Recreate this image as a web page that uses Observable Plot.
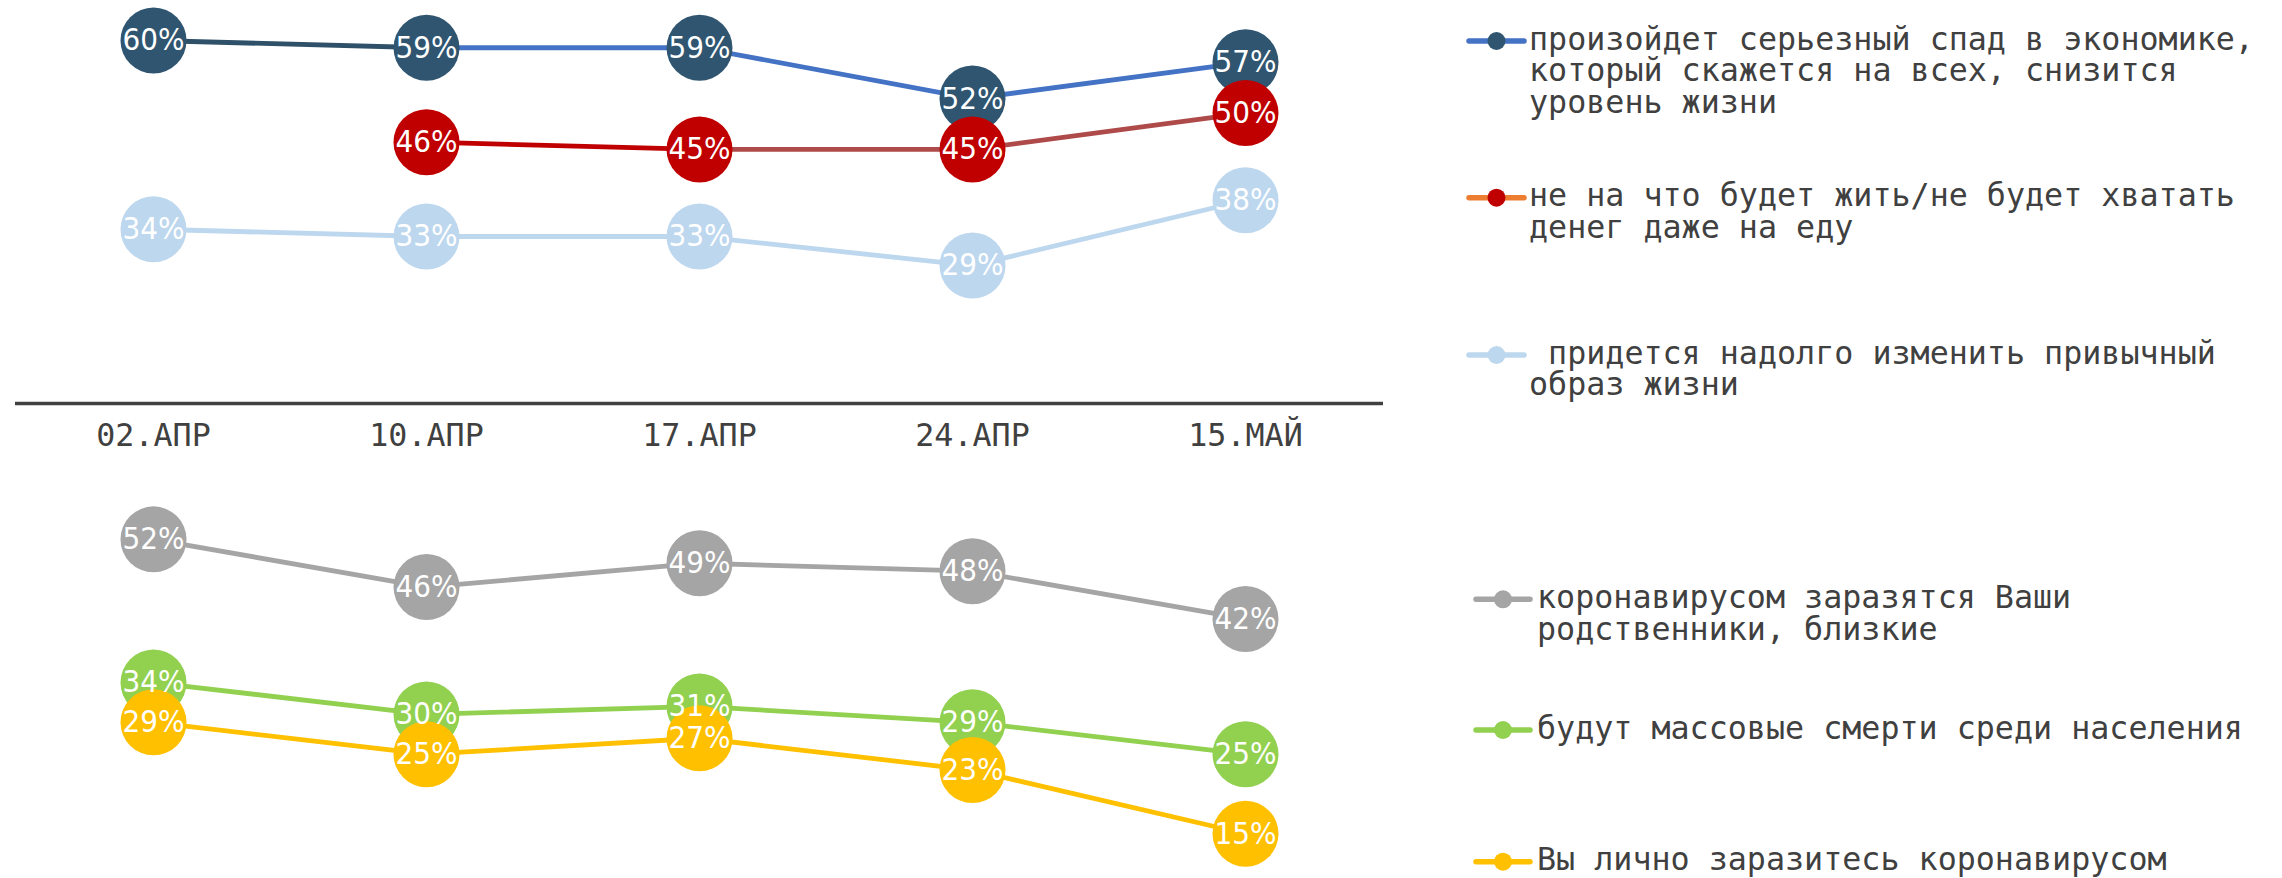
<!DOCTYPE html>
<html>
<head>
<meta charset="utf-8">
<script src="https://cdn.jsdelivr.net/npm/d3@7"></script>
<script src="https://cdn.jsdelivr.net/npm/@observablehq/plot@0.6"></script>
<style>
  html, body { margin: 0; padding: 0; background: #fff; overflow: hidden; }
  #wrap { position: relative; width: 2282px; height: 878px; overflow: hidden; background: #fff; }
  #top, #bottom, #legend { position: absolute; left: 0; }
  #top { top: 0; }
  #bottom { top: 470px; }
  #legend { top: 0; }
</style>
</head>
<body>
<div id="wrap">
  <div id="top"></div>
  <div id="bottom"></div>
  <svg id="legend" width="2282" height="878"></svg>
</div>
<script>
// ---------- DATA ----------
const dates = ["02.АПР", "10.АПР", "17.АПР", "24.АПР", "15.МАЙ"];
const econDecline = [60, 59, 59, 52, 57];
const noMoney = [null, 46, 45, 45, 50];
const lifestyleChange = [34, 33, 33, 29, 38];
const relativesInfected = [52, 46, 49, 48, 42];
const massDeaths = [34, 30, 31, 29, 25];
const selfInfected = [29, 25, 27, 23, 15];
const seriesNames = [
  "произойдет серьезный спад в экономике,\nкоторый скажется на всех, снизится\nуровень жизни",
  "не на что будет жить/не будет хватать\nденег даже на еду",
  " придется надолго изменить привычный\nобраз жизни",
  "коронавирусом заразятся Ваши\nродственники, близкие",
  "будут массовые смерти среди населения",
  "Вы лично заразитесь коронавирусом"
];

// ---------- STYLES ----------
const labelFont = "DejaVu Sans Condensed, DejaVu Sans, sans-serif";
const monoFont = "DejaVu Sans Mono, Liberation Mono, monospace";
const topStyles = [
  { dot: "#2F5570", seg: ["#2E5068", "#4472C4", "#4472C4", "#4472C4"], legendLine: "#4472C4" },
  { dot: "#C00000", seg: ["#C00000", "#C00000", "#AE4A4A", "#AE4A4A"], legendLine: "#ED7D31" },
  { dot: "#BDD7EE", seg: ["#BDD7EE", "#BDD7EE", "#BDD7EE", "#BDD7EE"], legendLine: "#BDD7EE" }
];
const bottomStyles = [
  { dot: "#A5A5A5", seg: ["#A5A5A5", "#A5A5A5", "#A5A5A5", "#A5A5A5"], legendLine: "#A5A5A5" },
  { dot: "#92D050", seg: ["#92D050", "#92D050", "#92D050", "#92D050"], legendLine: "#92D050" },
  { dot: "#FFC000", seg: ["#FFC000", "#FFC000", "#FFC000", "#FFC000"], legendLine: "#FFC000" }
];

function rowsOf(values) {
  return dates.map((d, i) => ({ date: d, value: values[i] })).filter(r => r.value != null);
}
function segmentsOf(values, style) {
  const segs = [];
  for (let i = 0; i < dates.length - 1; i++) {
    if (values[i] != null && values[i + 1] != null) {
      segs.push({ x1: dates[i], y1: values[i], x2: dates[i + 1], y2: values[i + 1], stroke: style.seg[i] });
    }
  }
  return segs;
}

function panel(seriesList, styles, opts) {
  const marks = [];
  seriesList.forEach((vals, k) => {
    marks.push(Plot.link(segmentsOf(vals, styles[k]), {
      x1: "x1", y1: "y1", x2: "x2", y2: "y2", stroke: "stroke",
      strokeWidth: 4.8, strokeLinecap: "round"
    }));
  });
  seriesList.forEach((vals, k) => {
    marks.push(Plot.dot(rowsOf(vals), { x: "date", y: "value", r: 33, fill: styles[k].dot }));
  });
  seriesList.forEach((vals) => {
    marks.push(Plot.text(rowsOf(vals), {
      x: "date", y: "value", text: d => d.value + "%", fill: "white",
      fontSize: 31, fontFamily: labelFont
    }));
  });
  if (opts.axis) {
    marks.push(Plot.ruleY([opts.yDomain[0]], { stroke: "#404040", strokeWidth: 3.5 }));
    marks.push(Plot.axisX({
      tickSize: 0, tickPadding: 20, fontSize: 31.7, fontFamily: monoFont, color: "#404040"
    }));
  }
  return Plot.plot({
    width: 1400,
    height: opts.height,
    marginLeft: 15,
    marginRight: 17,
    marginTop: opts.marginTop,
    marginBottom: opts.marginBottom,
    x: { type: "point", domain: dates, padding: 0.5, axis: null },
    y: { domain: opts.yDomain, axis: null },
    color: { type: "identity" },
    style: { background: "transparent", overflow: "visible" },
    marks
  });
}

document.getElementById("top").appendChild(
  panel([econDecline, noMoney, lifestyleChange], topStyles,
    { height: 470, marginTop: 40, marginBottom: 67, yDomain: [10, 60], axis: true })
);
document.getElementById("bottom").appendChild(
  panel([relativesInfected, massDeaths, selfInfected], bottomStyles,
    { height: 408, marginTop: 45, marginBottom: 5, yDomain: [10, 55], axis: false })
);

// ---------- LEGEND ----------
const legendPos = [
  { mx1: 1469, mx2: 1524, tx: 1529, y: 41, lh: 31.7 },
  { mx1: 1469, mx2: 1524, tx: 1529, y: 197.7, lh: 31.7 },
  { mx1: 1469, mx2: 1524, tx: 1529, y: 355, lh: 31.7 },
  { mx1: 1476, mx2: 1530, tx: 1537, y: 599.3, lh: 32.4 },
  { mx1: 1476, mx2: 1530, tx: 1537, y: 730, lh: 32.4 },
  { mx1: 1476, mx2: 1530, tx: 1537, y: 861.7, lh: 32.4 }
];
const legendStyles = topStyles.concat(bottomStyles);
const svg = d3.select("#legend");
seriesNames.forEach((name, i) => {
  const p = legendPos[i], s = legendStyles[i];
  svg.append("line").attr("x1", p.mx1).attr("x2", p.mx2).attr("y1", p.y).attr("y2", p.y)
    .attr("stroke", s.legendLine).attr("stroke-width", 5.5).attr("stroke-linecap", "round");
  svg.append("circle").attr("cx", (p.mx1 + p.mx2) / 2).attr("cy", p.y).attr("r", 9).attr("fill", s.dot);
  const t = svg.append("text").attr("x", p.tx).attr("y", p.y + 8.6)
    .attr("font-family", monoFont).attr("font-size", 31.7).attr("fill", "#404040")
    .style("white-space", "pre").attr("xml:space", "preserve");
  name.split("\n").forEach((line, j) => {
    t.append("tspan").attr("x", p.tx).attr("y", p.y + 8.6 + j * p.lh).text(line);
  });
});
</script>
</body>
</html>
